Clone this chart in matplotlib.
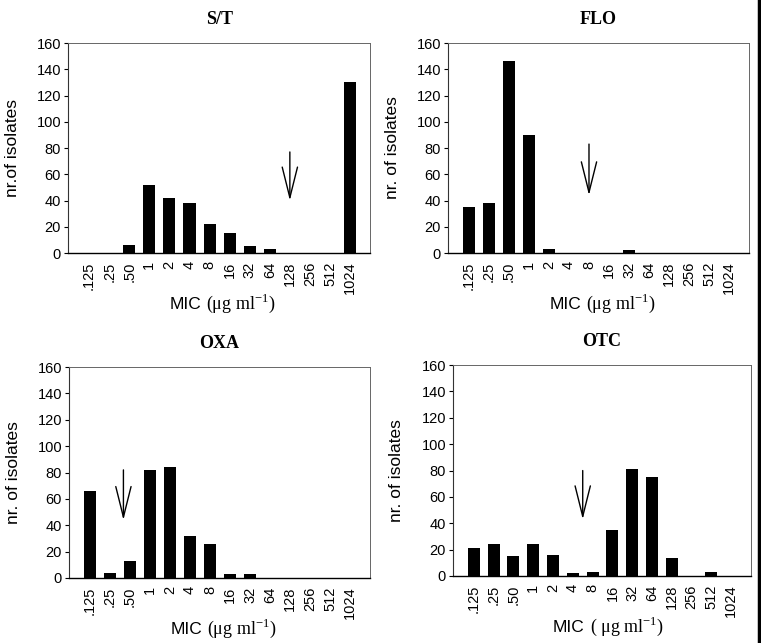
import matplotlib
matplotlib.use('Agg')
import matplotlib.pyplot as plt
import numpy as np
from matplotlib.lines import Line2D

matplotlib.rc('font', family='Liberation Sans', size=10)
matplotlib.rcParams['mathtext.fontset'] = 'custom'
matplotlib.rcParams['mathtext.rm'] = 'Liberation Serif'

mic_labels = ['.125', '.25', '.50', '1', '2', '4', '8', '16', '32', '64', '128', '256', '512', '1024']

# number of isolates per MIC class
st_counts = [0, 0, 6, 52, 42, 38, 22, 15, 5, 3, 0, 0, 0, 130]
flo_counts = [35, 38, 146, 90, 3, 0, 0, 0, 2, 0, 0, 0, 0, 0]
oxa_counts = [66, 4, 13, 82, 84, 32, 26, 3, 3, 0, 0, 0, 0, 0]
otc_counts = [21, 24, 15, 24, 16, 2, 3, 35, 81, 75, 14, 0, 3, 0]

titles = ['S/T', 'FLO', 'OXA', 'OTC']
ylabels = ['nr.of isolates', 'nr. of isolates', 'nr. of isolates', 'nr. of isolates']
unit_labels = [r'(μg ml$^{\mathregular{-1}}$)', r'(μg ml$^{\mathregular{-1}}$)',
               r'(μg ml$^{\mathregular{-1}}$)', r'( μg ml$^{\mathregular{-1}}$)']

# breakpoint arrows: x position (category index), arrow start, arrow tip
arrow_x = [10, 6, 1.67, 5.5]
arrow_top = [77, 83, 82, 80]
arrow_tip = [40, 44, 44, 43]

# axes rectangles in figure fraction
positions = [
    [0.0894, 0.6065, 0.397, 0.3266],
    [0.5887, 0.6065, 0.3955, 0.3266],
    [0.0907, 0.1011, 0.3955, 0.328],
    [0.5953, 0.1042, 0.3916, 0.328],
]
ylabel_x = [-0.185, -0.186, -0.183, -0.19]


def plot_panel(fig, rect, counts, title, ylabel, unit, ax_x, a_top, a_tip, ylab_x):
    ax = fig.add_axes(rect)
    ind = np.arange(len(mic_labels))
    ax.bar(ind, counts, width=0.6, color='black', linewidth=0)

    ax.set_xlim(-1.05, 14)
    ax.set_ylim(0, 160)
    ax.set_yticks(np.arange(0, 161, 20))
    ax.set_xticks(ind)
    ax.set_xticklabels(mic_labels, rotation=90, va='top')
    ax.tick_params(axis='x', length=0, pad=6, labelsize=10.5)
    ax.tick_params(axis='y', length=3, width=0.8, direction='out', pad=2, labelsize=10.5)

    for side in ['top', 'right']:
        ax.spines[side].set_color('#666666')
        ax.spines[side].set_linewidth(0.7)
    ax.spines['left'].set_color('#333333')
    ax.spines['left'].set_linewidth(0.8)
    ax.spines['bottom'].set_color('black')
    ax.spines['bottom'].set_linewidth(1.0)

    ax.set_title(title, fontfamily='Liberation Serif', fontweight='bold', fontsize=13, pad=14)
    ax.set_ylabel(ylabel, fontsize=12.5, va='center')
    ax.yaxis.set_label_coords(ylab_x, 0.5)

    # x label mixes a sans "MIC" and a serif unit
    ax.text(0.442, -0.265, 'MIC', transform=ax.transAxes, ha='right', va='baseline', fontsize=12.5)
    ax.text(0.458, -0.265, unit, transform=ax.transAxes, ha='left', va='baseline',
            fontsize=13, fontfamily='Liberation Serif')

    ax.annotate('', xy=(ax_x, a_tip), xytext=(ax_x, a_top),
                arrowprops=dict(arrowstyle='->,head_length=2.2,head_width=0.55',
                                lw=1.0, color='black', shrinkA=0, shrinkB=0))
    return ax


fig = plt.figure(figsize=(7.61, 6.43), dpi=100)
all_counts = [st_counts, flo_counts, oxa_counts, otc_counts]
for i in range(4):
    plot_panel(fig, positions[i], all_counts[i], titles[i], ylabels[i], unit_labels[i],
               arrow_x[i], arrow_top[i], arrow_tip[i], ylabel_x[i])

# scan edge on the right
fig.add_artist(Line2D([0.997, 0.997], [0, 1], transform=fig.transFigure, color='black', lw=2.5))

plt.savefig('out.png', dpi=100)
